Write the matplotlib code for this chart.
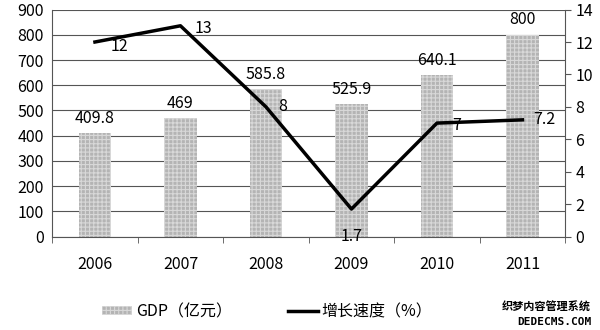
import matplotlib.pyplot as plt
import numpy as np

years = ['2006', '2007', '2008', '2009', '2010', '2011']
gdp = [409.8, 469, 585.8, 525.9, 640.1, 800]
growth = [12, 13, 8, 1.7, 7, 7.2]
gdp_labels = ['409.8', '469', '585.8', '525.9', '640.1', '800']
growth_labels = ['12', '13', '8', '1.7', '7', '7.2']

plt.rcParams['font.family'] = ['Noto Sans CJK SC', 'DejaVu Sans']
plt.rcParams['hatch.color'] = '#e6e6e6'
plt.rcParams['hatch.linewidth'] = 0.8

fig = plt.figure(figsize=(6, 3.3), dpi=100)
ax = fig.add_axes([0.087, 0.283, 0.855, 0.688])
x = np.arange(len(years))

ax.bar(x, gdp, width=0.38, color='#b4b4b4', hatch='++++', edgecolor='#d8d8d8',
       linewidth=0, zorder=2, label='GDP（亿元）')
for i, v in enumerate(gdp):
    ax.text(x[i], v + 25, gdp_labels[i], ha='center', va='bottom', fontsize=11.5)

ax.set_ylim(0, 900)
ax.set_yticks(range(0, 901, 100))
ax.set_xlim(-0.5, len(years) - 0.5)
ax.set_xticks(x)
ax.set_xticklabels(years, fontsize=11.5)
ax.tick_params(axis='x', length=0, pad=14)
ax.set_xticks(np.arange(-0.5, len(years)), minor=True)
ax.tick_params(axis='x', which='minor', length=4, direction='out', color='#555555')
ax.tick_params(axis='y', length=0, labelsize=11.5, pad=6)
ax.grid(axis='y', color='#555555', linewidth=0.8, zorder=1)
for s in ['top', 'right']:
    ax.spines[s].set_visible(False)
ax.spines['left'].set_color('#555555')
ax.spines['bottom'].set_color('#555555')

ax2 = ax.twinx()
ax2.plot(x, growth, color='black', linewidth=2.5, zorder=3, label='增长速度（%）')
ax2.set_ylim(0, 14)
ax2.set_yticks(range(0, 15, 2))
ax2.tick_params(axis='y', length=4, direction='out', labelsize=11.5, color='#555555')
for s in ['top', 'left', 'bottom']:
    ax2.spines[s].set_visible(False)
ax2.spines['right'].set_color('#555555')

offsets = [(11, -3), (10, -2), (9, 0), (0, -20), (11, -2), (8, 0)]
for i, v in enumerate(growth):
    dx, dy = offsets[i]
    ax2.annotate(growth_labels[i], (x[i], v), xytext=(dx, dy), textcoords='offset points',
                 ha='left' if dx else 'center', va='center', fontsize=11.5)

h1, l1 = ax.get_legend_handles_labels()
h2, l2 = ax2.get_legend_handles_labels()
fig.legend(h1 + h2, l1 + l2, loc='center', bbox_to_anchor=(0.445, 0.055), ncol=2,
           frameon=False, fontsize=11.5, columnspacing=3.5, handlelength=1.9,
           handletextpad=0.2, handleheight=0.5)

fig.text(0.985, 0.07, '织梦内容管理系统', ha='right', va='center', fontsize=8, fontweight='bold')
fig.text(0.985, 0.025, 'DEDECMS.COM', ha='right', va='center', fontsize=8,
         family='DejaVu Sans Mono', fontweight='bold')

fig.savefig('out.png', dpi=100)
